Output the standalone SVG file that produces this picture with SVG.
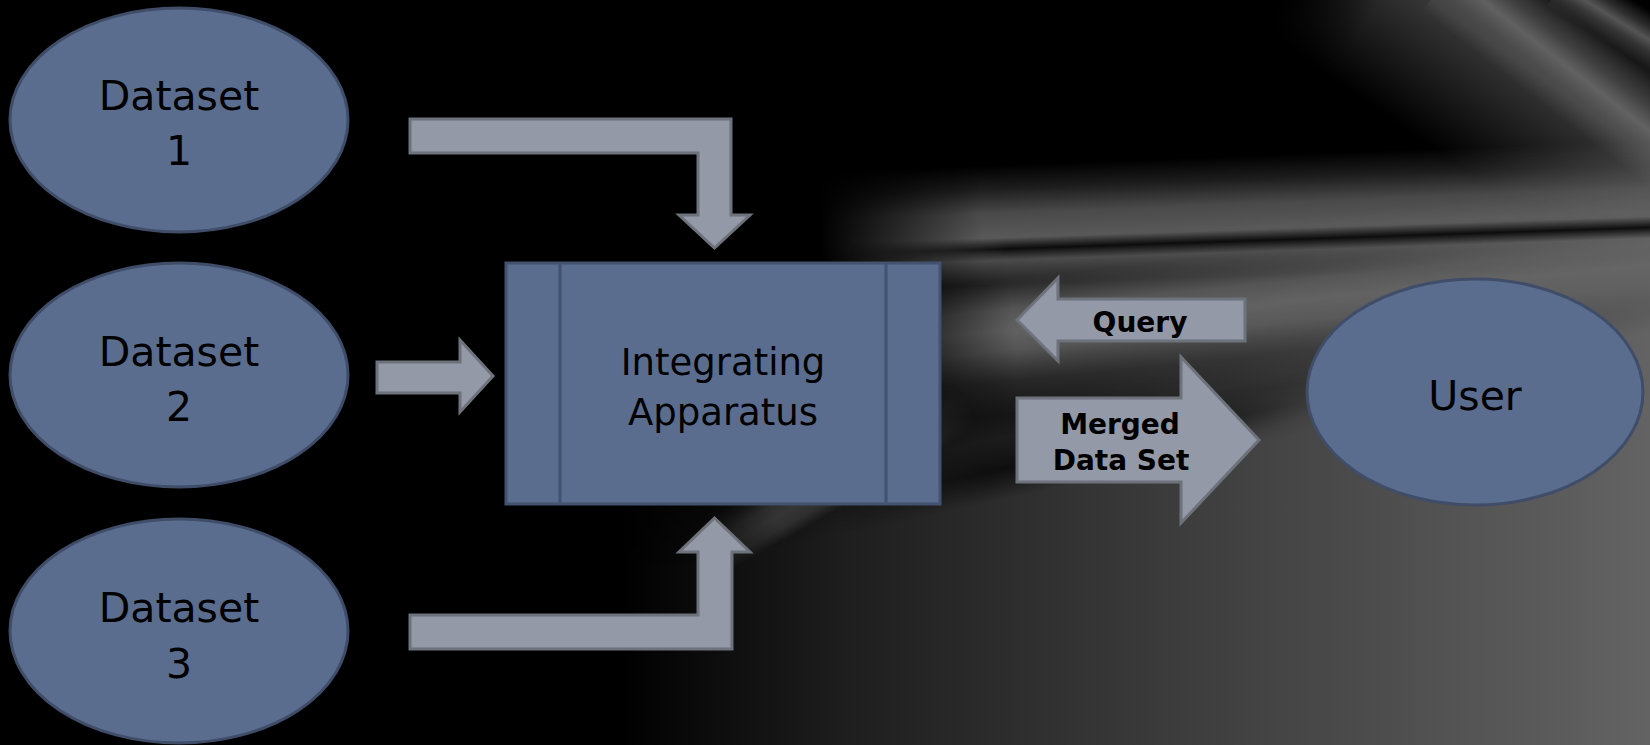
<svg xmlns="http://www.w3.org/2000/svg" width="1650" height="745" viewBox="0 0 1650 745">
<defs>
<style>
.ds{fill:#5a6d8e;stroke:#3f4d68;stroke-width:3}
.box{fill:#5a6d8e;stroke:#43536f;stroke-width:3}
.arr{fill:#9399a6;stroke:#6d727b;stroke-width:3;stroke-linejoin:miter}
.t{font-family:"DejaVu Sans","Liberation Sans",sans-serif;fill:#000;text-anchor:middle}
.tb{font-family:"DejaVu Sans","Liberation Sans",sans-serif;font-weight:bold;fill:#000;text-anchor:middle;font-size:28px}
</style>
<linearGradient id="lowH" x1="620" y1="0" x2="1650" y2="0" gradientUnits="userSpaceOnUse">
<stop offset="0" stop-color="#000"/>
<stop offset="0.22" stop-color="#1e1e1e"/>
<stop offset="0.56" stop-color="#3e3e3e"/>
<stop offset="1" stop-color="#636363"/>
</linearGradient>
<linearGradient id="vFadeTop" x1="0" y1="0" x2="0" y2="1">
<stop offset="0" stop-color="#000"/>
<stop offset="0.16" stop-color="#fff"/>
<stop offset="1" stop-color="#fff"/>
</linearGradient>
<mask id="mLow" maskUnits="userSpaceOnUse" x="0" y="0" width="1650" height="745">
<g transform="rotate(-14 1200 400)"><rect x="300" y="300" width="1900" height="900" fill="url(#vFadeTop)"/></g>
</mask>
<linearGradient id="vLight" x1="0" y1="0" x2="0" y2="1">
<stop offset="0" stop-color="#6a6a6a" stop-opacity="0"/>
<stop offset="0.2" stop-color="#6a6a6a" stop-opacity="0.3"/>
<stop offset="0.38" stop-color="#6a6a6a" stop-opacity="0.8"/>
<stop offset="0.5" stop-color="#6a6a6a" stop-opacity="0.92"/>
<stop offset="0.62" stop-color="#6a6a6a" stop-opacity="0.8"/>
<stop offset="0.8" stop-color="#6a6a6a" stop-opacity="0.3"/>
<stop offset="1" stop-color="#6a6a6a" stop-opacity="0"/>
</linearGradient>
<linearGradient id="vMid" x1="0" y1="0" x2="0" y2="1">
<stop offset="0" stop-color="#626262" stop-opacity="0"/>
<stop offset="0.2" stop-color="#626262" stop-opacity="0.3"/>
<stop offset="0.4" stop-color="#626262" stop-opacity="0.75"/>
<stop offset="0.6" stop-color="#626262" stop-opacity="0.9"/>
<stop offset="0.8" stop-color="#626262" stop-opacity="0.7"/>
<stop offset="1" stop-color="#626262" stop-opacity="0"/>
</linearGradient>
<linearGradient id="vDark" x1="0" y1="0" x2="0" y2="1">
<stop offset="0" stop-color="#000" stop-opacity="0"/>
<stop offset="0.5" stop-color="#000" stop-opacity="0.85"/>
<stop offset="1" stop-color="#000" stop-opacity="0"/>
</linearGradient>
<linearGradient id="vShade" x1="0" y1="0" x2="0" y2="1">
<stop offset="0" stop-color="#000" stop-opacity="0"/>
<stop offset="0.5" stop-color="#000" stop-opacity="0.6"/>
<stop offset="1" stop-color="#000" stop-opacity="0"/>
</linearGradient>
<linearGradient id="vWash" x1="0" y1="0" x2="0" y2="1">
<stop offset="0" stop-color="#3a3a3a" stop-opacity="0"/>
<stop offset="0.5" stop-color="#3a3a3a" stop-opacity="0.95"/>
<stop offset="1" stop-color="#3a3a3a" stop-opacity="0"/>
</linearGradient>
<linearGradient id="vStreak" x1="0" y1="0" x2="0" y2="1">
<stop offset="0" stop-color="#858585" stop-opacity="0"/>
<stop offset="0.3" stop-color="#858585" stop-opacity="0.3"/>
<stop offset="0.5" stop-color="#858585" stop-opacity="0.6"/>
<stop offset="0.7" stop-color="#858585" stop-opacity="0.3"/>
<stop offset="1" stop-color="#858585" stop-opacity="0"/>
</linearGradient>
<linearGradient id="hIn" x1="0" y1="0" x2="1" y2="0">
<stop offset="0" stop-color="#000"/>
<stop offset="0.18" stop-color="#fff"/>
<stop offset="1" stop-color="#fff"/>
</linearGradient>
<linearGradient id="hBoth" x1="0" y1="0" x2="1" y2="0">
<stop offset="0" stop-color="#000"/>
<stop offset="0.3" stop-color="#fff"/>
<stop offset="0.7" stop-color="#fff"/>
<stop offset="1" stop-color="#000"/>
</linearGradient>
<mask id="mIn" maskContentUnits="objectBoundingBox"><rect width="1" height="1" fill="url(#hIn)"/></mask>
<mask id="mBoth" maskContentUnits="objectBoundingBox"><rect width="1" height="1" fill="url(#hBoth)"/></mask>
</defs>

<g id="background">
<rect x="0" y="0" width="1650" height="745" fill="#000"/>
<rect x="0" y="0" width="1650" height="745" fill="url(#lowH)" mask="url(#mLow)"/>
<g transform="translate(1330,-70) rotate(35)"><rect x="0" y="-120" width="460" height="240" fill="url(#vWash)" mask="url(#mIn)"/></g>
<g transform="translate(820,232) rotate(-2.2)"><rect x="0" y="-60" width="900" height="120" fill="url(#vMid)" mask="url(#mIn)"/></g>
<g transform="translate(860,345) rotate(-5.8)"><rect x="0" y="-85" width="860" height="170" fill="url(#vLight)" mask="url(#mIn)"/></g>
<g transform="translate(690,560) rotate(-29.9)"><rect x="0" y="-30" width="320" height="60" fill="url(#vMid)" opacity="0.5" mask="url(#mBoth)"/></g>
<g transform="translate(850,254) rotate(-1.9)"><rect x="0" y="-11" width="870" height="22" fill="url(#vDark)" mask="url(#mIn)"/></g>
<g transform="translate(840,505) rotate(-12.6)"><rect x="0" y="-30" width="500" height="60" fill="url(#vShade)" mask="url(#mBoth)"/></g>
<g transform="translate(1450,-25) rotate(38)"><rect x="0" y="-45" width="330" height="90" fill="url(#vStreak)"/></g>
<g transform="translate(1560,-15) rotate(31.6)"><rect x="0" y="-25" width="170" height="50" fill="url(#vStreak)"/></g>
</g>

<g id="connectors">
<path class="arr" d="M410,119 H731 V215 H750 L714.5,248 L679,215 H698 V153 H410 Z"/>
<path class="arr" d="M410,649 H732 V552 H750 L714.5,518 L679,552 H698 V615 H410 Z"/>
<path class="arr" d="M377,362 H460 V340 L493,376 L460,412 V393 H377 Z"/>
<g id="query">
<path class="arr" d="M1245,299 H1058 V278 L1017,320 L1058,361 V341 H1245 Z"/>
<text class="tb" x="1140" y="332">Query</text>
</g>
<g id="merged">
<path class="arr" d="M1017,398 H1181 V357 L1259,440 L1181,523 V482 H1017 Z"/>
<text class="tb" x="1120" y="434">Merged</text>
<text class="tb" x="1121" y="470">Data Set</text>
</g>
</g>

<g id="dataset1">
<ellipse class="ds" cx="179" cy="120" rx="169" ry="112"/>
<text class="t" x="179" y="110" font-size="41">Dataset</text>
<text class="t" x="179" y="165" font-size="41">1</text>
</g>
<g id="dataset2">
<ellipse class="ds" cx="179" cy="375" rx="169" ry="112"/>
<text class="t" x="179" y="366" font-size="41">Dataset</text>
<text class="t" x="179" y="421" font-size="41">2</text>
</g>
<g id="dataset3">
<ellipse class="ds" cx="179" cy="631" rx="169" ry="112"/>
<text class="t" x="179" y="622" font-size="41">Dataset</text>
<text class="t" x="179" y="678" font-size="41">3</text>
</g>

<g id="integrating">
<rect class="box" x="506" y="263" width="434" height="241"/>
<line x1="560" y1="263" x2="560" y2="504" stroke="#43536f" stroke-width="3"/>
<line x1="886" y1="263" x2="886" y2="504" stroke="#43536f" stroke-width="3"/>
<text class="t" x="723" y="375" font-size="37">Integrating</text>
<text class="t" x="723" y="425" font-size="37">Apparatus</text>
</g>

<g id="user">
<ellipse class="ds" cx="1475" cy="392" rx="168" ry="113"/>
<text class="t" x="1475" y="410" font-size="41">User</text>
</g>
</svg>
